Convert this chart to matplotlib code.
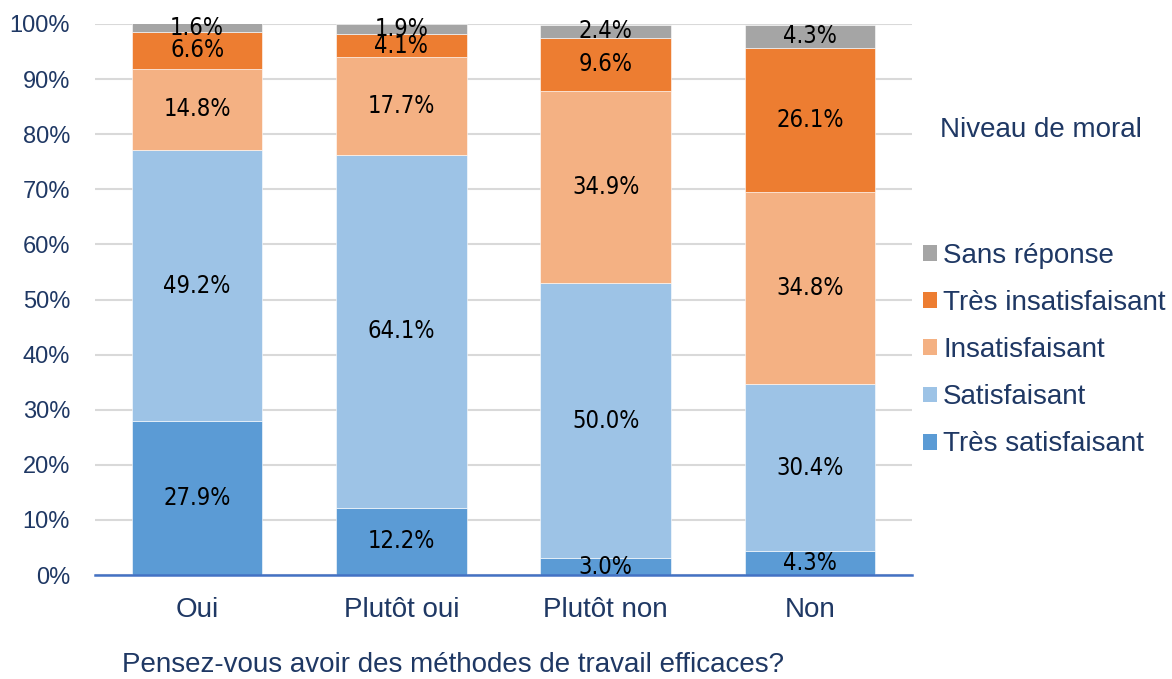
import matplotlib
matplotlib.use("Agg")
import matplotlib.pyplot as plt
from matplotlib.patches import Patch
import numpy as np

categories = ["Oui", "Plutôt oui", "Plutôt non", "Non"]
series_names = ["Très satisfaisant", "Satisfaisant", "Insatisfaisant",
                "Très insatisfaisant", "Sans réponse"]
tres_satisfaisant = [27.9, 12.2, 3.0, 4.3]
satisfaisant = [49.2, 64.1, 50.0, 30.4]
insatisfaisant = [14.8, 17.7, 34.9, 34.8]
tres_insatisfaisant = [6.6, 4.1, 9.6, 26.1]
sans_reponse = [1.6, 1.9, 2.4, 4.3]
yticks = [0, 10, 20, 30, 40, 50, 60, 70, 80, 90, 100]

colors = ["#5B9BD5", "#9DC3E6", "#F4B183", "#ED7D31", "#A5A5A5"]
navy = "#1F3864"
series = [tres_satisfaisant, satisfaisant, insatisfaisant, tres_insatisfaisant, sans_reponse]
sans = ["Liberation Sans", "DejaVu Sans"]

fig = plt.figure(figsize=(11.72, 6.79), dpi=100)
ax = fig.add_axes([95/1172, 1-575/679, (912-95)/1172, (575-24)/679])

x = np.arange(len(categories))
bottom = np.zeros(len(categories))
for vals, col in zip(series, colors):
    vals = np.array(vals)
    ax.bar(x, vals, width=0.64, bottom=bottom, color=col, edgecolor="white",
           linewidth=0.4, zorder=2)
    for xi, b, v in zip(x, bottom, vals):
        ax.text(xi, b + v/2, f"{v:.1f}%", ha="center", va="center",
                fontsize=17, family="DejaVu Sans", fontstretch="condensed",
                color="black", zorder=3)
    bottom += vals

ax.set_xlim(-0.5, 3.5)
ax.set_ylim(0, 100)
ax.set_yticks(yticks)
ax.set_yticklabels([f"{t}%" for t in yticks], fontsize=17, family=sans, color=navy)
ax.set_xticks(x)
ax.set_xticklabels(categories, fontsize=20, family=sans, color=navy)
ax.tick_params(axis="both", length=0)
ax.tick_params(axis="x", pad=16)
ax.tick_params(axis="y", pad=18)
ax.grid(axis="y", color="#D9D9D9", linewidth=1.5, zorder=0)
for s in ["top", "right", "left"]:
    ax.spines[s].set_visible(False)
ax.spines["bottom"].set_color("#4472C4")
ax.spines["bottom"].set_linewidth(1.8)
ax.spines["bottom"].set_zorder(4)

fig.text(453/1172, 1-665/679, "Pensez-vous avoir des méthodes de travail efficaces?",
         ha="center", va="center", fontsize=20, color=navy, family=sans)
fig.text(940/1172, 1-130/679, "Niveau de moral", ha="left", va="center",
         fontsize=20, color=navy, family=sans)

handles = [Patch(facecolor=c, edgecolor="none") for c in colors][::-1]
labels = series_names[::-1]
leg = fig.legend(handles, labels, loc="upper left", bbox_to_anchor=(923/1172, 1-243/679),
                 frameon=False, handlelength=0.5, handleheight=0.5, handletextpad=0.22,
                 labelspacing=0.76, borderaxespad=0, borderpad=0,
                 prop={"family": sans, "size": 20})
for t in leg.get_texts():
    t.set_color(navy)

fig.savefig("out.png", dpi=100)
